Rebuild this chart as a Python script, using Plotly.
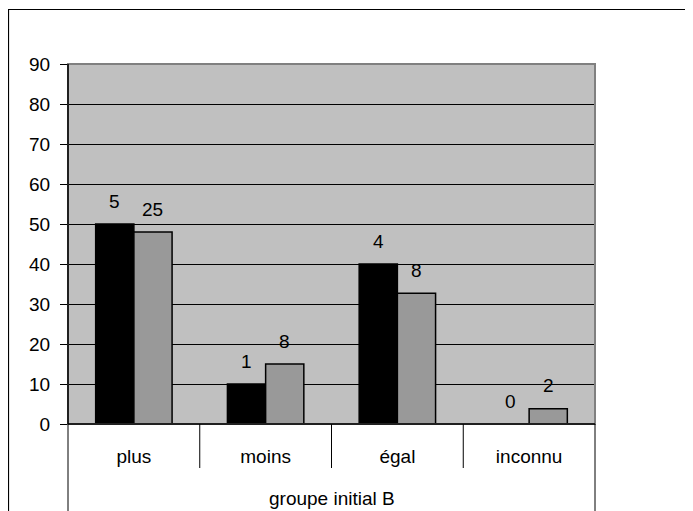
import plotly.graph_objects as go

categories = ["plus", "moins", "égal", "inconnu"]
series_black = [50, 10, 40, 0]
series_gray = [48, 15, 32.7, 3.8]
labels_black = ["5", "1", "4", "0"]
labels_gray = ["25", "8", "8", "2"]
group_label = "groupe initial B"
y_ticks = list(range(0, 91, 10))

FONT = "Liberation Sans, Arial, sans-serif"
FS = 19

# page body has an 8px margin, so the figure is drawn 8px in from the window edge
W, H = 685, 503
L, R, T, B = 60, 98, 56, 87
pw = W - L - R
ph = H - T - B

fig = go.Figure()
fig.add_trace(go.Bar(x=categories, y=series_black, marker=dict(color="#000000", line=dict(color="#000000", width=1.5)), showlegend=False))
fig.add_trace(go.Bar(x=categories, y=series_gray, marker=dict(color="#999999", line=dict(color="#000000", width=1.5)), showlegend=False))

ann = []
for c, v, t in zip(categories, series_black, labels_black):
    ann.append(dict(x=c, y=v, xref="x", yref="y", text=t, showarrow=False, xshift=-19, yshift=23,
                    yanchor="middle", font=dict(family=FONT, size=FS, color="black")))
for c, v, t in zip(categories, series_gray, labels_gray):
    ann.append(dict(x=c, y=v, xref="x", yref="y", text=t, showarrow=False, xshift=19, yshift=23,
                    yanchor="middle", font=dict(family=FONT, size=FS, color="black")))
ann.append(dict(x=0.5, y=-(490 - (T + ph)) / ph, xref="paper", yref="paper", text=group_label, showarrow=False,
                xanchor="center", yanchor="middle", font=dict(family=FONT, size=FS, color="black")))

shapes = []
shapes.append(dict(type="rect", xref="paper", yref="paper", x0=0, x1=1, y0=0, y1=1,
                   line=dict(color="#808080", width=2), layer="above"))
shapes.append(dict(type="line", xref="paper", yref="paper", x0=0, x1=1, y0=0, y1=0, line=dict(color="black", width=1.5), layer="above"))
n = len(categories)
for i in range(1, n):
    shapes.append(dict(type="line", xref="paper", yref="paper", x0=i / n, x1=i / n, y0=0, y1=-44 / ph,
                       line=dict(color="black", width=1)))
for xp in (0, 1):
    shapes.append(dict(type="line", xref="paper", yref="paper", x0=xp, x1=xp, y0=0, y1=-(B + 5) / ph,
                       line=dict(color="black", width=1)))
shapes.append(dict(type="line", xref="paper", yref="paper", x0=0, x1=0, y0=0, y1=1, line=dict(color="black", width=1.5), layer="above"))
shapes.append(dict(type="rect", xref="paper", yref="paper",
                   x0=(0.5 - L) / pw, x1=(W + 20 - L) / pw,
                   y0=-(B + 20) / ph, y1=1 + (T - 1.5) / ph,
                   line=dict(color="black", width=1.2)))

fig.update_layout(
    width=W, height=H,
    margin=dict(l=L, r=R, t=T, b=B, pad=0),
    paper_bgcolor="white",
    plot_bgcolor="#c0c0c0",
    barmode="group",
    bargap=0.42,
    bargroupgap=0,
    font=dict(family=FONT, size=FS, color="black"),
    xaxis=dict(type="category", showgrid=False, showline=False, ticks="outside", ticklen=15,
               tickcolor="rgba(0,0,0,0)", tickfont=dict(family=FONT, size=FS, color="black"),
               range=[-0.5, n - 0.5], zeroline=False),
    yaxis=dict(range=[0, 90], tickvals=y_ticks, showgrid=True, gridcolor="black", gridwidth=1,
               ticks="outside", ticklen=7, tickcolor="black", showline=False, zeroline=False,
               ticklabelstandoff=6,
               tickfont=dict(family=FONT, size=FS, color="black")),
    annotations=ann,
    shapes=shapes,
)

fig.write_html("out.html")
